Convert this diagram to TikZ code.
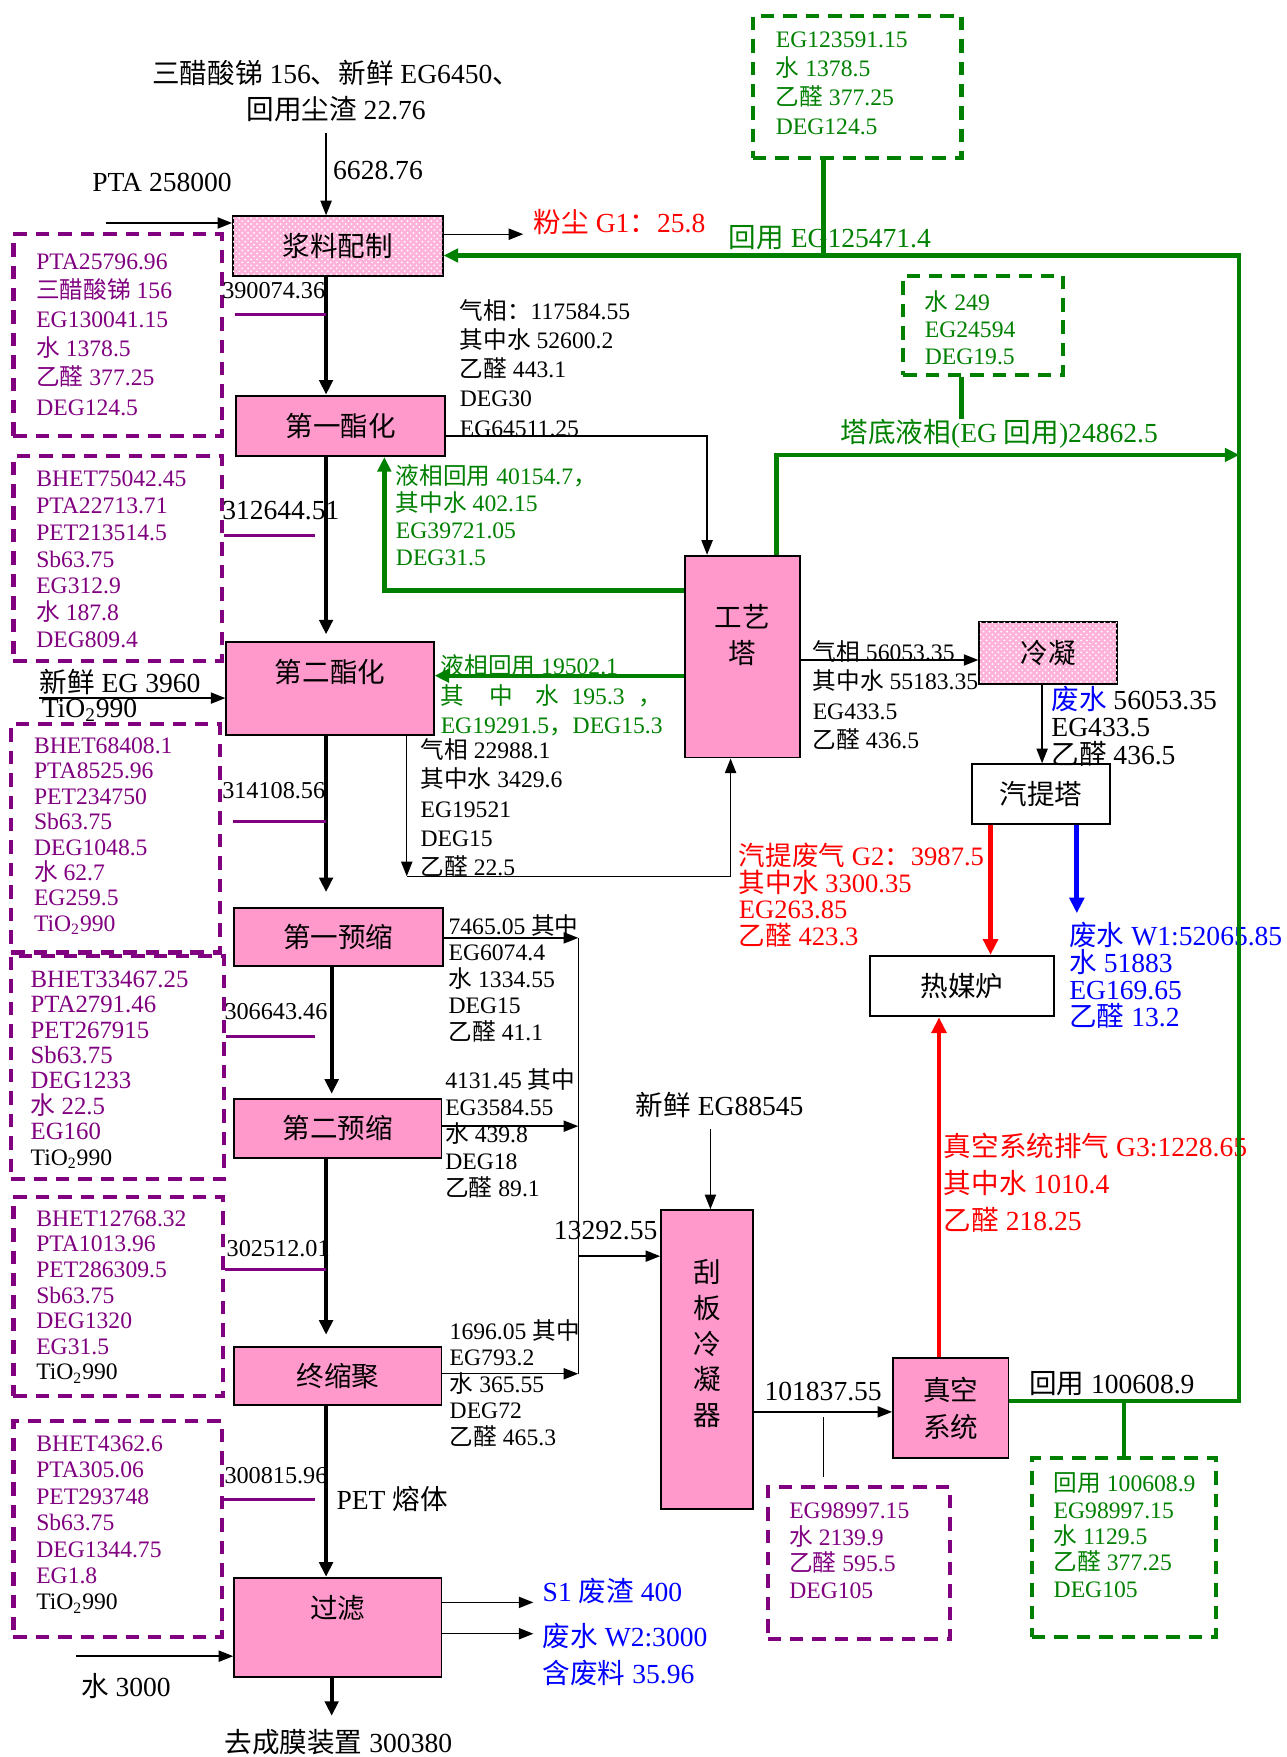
\documentclass[tikz,border=0pt]{standalone}
\usepackage{fontspec}
\setmainfont{Liberation Serif}
\newfontfamily\cjk{Noto Sans CJK SC}
\usetikzlibrary{arrows.meta,patterns}
\definecolor{procpink}{HTML}{FF99CC}
\definecolor{mixpink}{HTML}{FFB3DA}
\definecolor{flowpurple}{HTML}{800080}
\definecolor{flowgreen}{HTML}{008000}
% switch to the CJK font for Chinese characters
\XeTeXinterchartokenstate=1
\newXeTeXintercharclass\cjkclass
\newcount\cjkcode
\def\setcjkrange#1#2{\cjkcode=#1\relax
	\loop\XeTeXcharclass\cjkcode=\cjkclass
	\ifnum\cjkcode<#2\relax\advance\cjkcode by 1\repeat}
\setcjkrange{"3000}{"303F}
\setcjkrange{"4E00}{"9FFF}
\setcjkrange{"FF00}{"FFEF}
\XeTeXinterchartoks 0 \cjkclass={\cjk}
\XeTeXinterchartoks 4095 \cjkclass={\cjk}
\XeTeXinterchartoks \cjkclass 0={\rmfamily}
\XeTeXinterchartoks \cjkclass 4095={\rmfamily}
\begin{document}
\begin{tikzpicture}[x=0.2mm,y=-0.2mm,
		proc/.style={draw,line width=1pt,fill=procpink,inner sep=0pt,align=center,font=\fontsize{14}{18}\selectfont},
		slurrybox/.style={proc,fill=mixpink,postaction={pattern=crosshatch dots,pattern color=white}},
		whitebox/.style={proc,fill=white},
		lbl/.style={inner sep=0pt,font=\fontsize{14}{18.2}\selectfont},
		num/.style={inner sep=0pt,anchor=west,font=\fontsize{12.3}{15}\selectfont},
		dtext/.style={anchor=north west,inner sep=0pt,align=left,font=\fontsize{12}{#1}\selectfont},
		dtext/.default=14.8pt,
		pframe/.style={draw=flowpurple,line width=2.1pt,dash pattern=on 2.4mm off 1.6mm},
		gframe/.style={pframe,draw=flowgreen},
		tie/.style={draw=flowpurple,line width=1.6pt},
		thinline/.style={line width=0.7pt},
		thinarr/.style={thinline,-{Triangle[length=2.6mm,width=2mm]}},
		mainarr/.style={line width=2.2pt,-{Triangle[length=2.6mm,width=2.4mm]}},
		gline/.style={draw=flowgreen,line width=2.2pt},
		garr/.style={gline,-{Triangle[length=2.6mm,width=2.4mm]}},
		redarr/.style={draw=red,line width=2.4pt,-{Triangle[length=2.8mm,width=2.6mm]}},
		bluearr/.style={draw=blue,line width=2.4pt,-{Triangle[length=2.8mm,width=2.6mm]}}
	]
	\useasboundingbox (0,0) rectangle (1148,1568);
	\coordinate (mainx) at (291,0);
	\coordinate (subx) at (296,0);
	\coordinate (rtop) at (1106,228);
	\coordinate (rbot) at (1106,1250);
	\coordinate (ptain) at (95,199);
	\coordinate (egin) at (35,623);
	\coordinate (win) at (68,1478);
	\coordinate (v2) at (363,782);
	\coordinate (colt) at (516,837);
	\coordinate (colb) at (516,1226);
	\coordinate (tap) at (735,1265);

	\node[slurrybox,minimum width=37.4mm,minimum height=10.6mm] (slurry) at (301.5,219.5) {浆料配制};
	\node[proc,minimum width=37.2mm,minimum height=10.8mm] (ester1) at (304,380) {第一酯化};
	\node[proc,minimum width=37mm,minimum height=16.6mm,label={[name=ester2lbl,lbl,yshift=2.9mm]center:第二酯化}] (ester2) at (294.5,614.5) {};
	\node[proc,minimum width=37.2mm,minimum height=10.4mm] (pre1) at (302,836) {第一预缩};
	\node[proc,minimum width=37mm,minimum height=10.4mm] (pre2) at (301.5,1007) {第二预缩};
	\node[proc,minimum width=37mm,minimum height=10.4mm] (final) at (301.5,1228) {终缩聚};
	\node[proc,minimum width=37mm,minimum height=17.8mm,label={[name=filterlbl,lbl,yshift=3.5mm]center:过滤}] (filter) at (301.5,1452.5) {};
	\node[proc,minimum width=20.6mm,minimum height=36mm,label={[name=towerlbl,lbl,align=center,yshift=3.8mm]center:工艺\\塔}] (tower) at (662.5,586) {};
	\node[slurrybox,minimum width=24.6mm,minimum height=11mm] (cond) at (935.5,582.5) {冷凝};
	\node[whitebox,minimum width=24.8mm,minimum height=10.6mm] (strip) at (929,708.5) {汽提塔};
	\node[whitebox,minimum width=33mm,minimum height=10.8mm] (heater) at (858.5,880) {热媒炉};
	\node[proc,minimum width=16.4mm,minimum height=53.4mm,label={[name=scraperlbl,lbl,align=center,yshift=2.9mm]center:刮\\板\\冷\\凝\\器}] (scraper) at (631,1213.5) {};
	\node[proc,minimum width=20.6mm,minimum height=17.8mm,font=\fontsize{14}{18.8}\selectfont] (vacuum) at (848.5,1256.5) {真空\\系统};

	\node[pframe,minimum width=37.2mm,minimum height=36mm] (pb1) at (105,299) {};
	\node[pframe,minimum width=37.2mm,minimum height=36.6mm] (pb2) at (105,498.5) {};
	\node[pframe,minimum width=37.2mm,minimum height=40.8mm] (pb3) at (103,748) {};
	\node[pframe,minimum width=38mm,minimum height=39.8mm] (pb4) at (105,952.5) {};
	\node[pframe,minimum width=37.4mm,minimum height=35.6mm] (pb5) at (105.5,1157) {};
	\node[pframe,minimum width=37.2mm,minimum height=38.6mm] (pb8) at (105,1364.5) {};
	\node[pframe,minimum width=32.6mm,minimum height=27.2mm] (pb6) at (766.5,1395) {};
	\node[gframe,minimum width=32.8mm,minimum height=32mm] (gb7) at (1003,1381) {};
	\node[gframe,minimum width=37.2mm,minimum height=25.4mm] (gb1) at (765,77.5) {};
	\node[gframe,minimum width=28.6mm,minimum height=17.8mm] (gb2) at (877.5,290.5) {};

	\node[dtext,flowpurple] (pt1) at (32,226) {PTA25796.96\\三醋酸锑 156\\EG130041.15\\水 1378.5\\乙醛 377.25\\DEG124.5};
	\node[dtext=13.6pt,flowpurple] (pt2) at (32,420) {BHET75042.45\\PTA22713.71\\PET213514.5\\Sb63.75\\EG312.9\\水 187.8\\DEG809.4};
	\node[dtext=12.9pt,flowpurple] (pt3) at (30,658) {BHET68408.1\\PTA8525.96\\PET234750\\Sb63.75\\DEG1048.5\\水 62.7\\EG259.5\\TiO\textsubscript{2}990};
	\node[dtext,font=\fontsize{12.6}{12.9}\selectfont,flowpurple] (pt4) at (27,866) {BHET33467.25\\PTA2791.46\\PET267915\\Sb63.75\\DEG1233\\水 22.5\\EG160\\\textcolor{black}{\fontsize{12}{12.9}\selectfont TiO\textsubscript{2}990}};
	\node[dtext=13pt,flowpurple] (pt5) at (32,1080) {BHET12768.32\\PTA1013.96\\PET286309.5\\Sb63.75\\DEG1320\\EG31.5\\\textcolor{black}{TiO\textsubscript{2}990}};
	\node[dtext=13.4pt,flowpurple] (pt8) at (32,1281) {BHET4362.6\\PTA305.06\\PET293748\\Sb63.75\\DEG1344.75\\EG1.8\\\textcolor{black}{TiO\textsubscript{2}990}};
	\node[dtext=13.5pt,flowpurple] (pt6) at (704,1341) {EG98997.15\\水 2139.9\\乙醛 595.5\\DEG105};
	\node[dtext=13.4pt,flowgreen] (pt7) at (940,1314) {回用 100608.9\\EG98997.15\\水 1129.5\\乙醛 377.25\\DEG105};
	\node[dtext,flowgreen] (gt1) at (692,28) {EG123591.15\\水 1378.5\\乙醛 377.25\\DEG124.5};
	\node[dtext=13.7pt,flowgreen] (gt2) at (825,259) {水 249\\EG24594\\DEG19.5};

	\node[dtext] (vap1) at (410,267) {气相：117584.55\\其中水 52600.2\\乙醛 443.1\\DEG30\\EG64511.25};
	\node[dtext=13.7pt,flowgreen] (liq1) at (353,414) {液相回用 40154.7，\\其中水 402.15\\EG39721.05\\DEG31.5};
	\node[dtext=15pt,flowgreen] (liq2) at (393,584) {液相回用 19502.1\\其\hspace{4.5mm}中\hspace{4mm}水\hspace{2.2mm}195.3\hspace{2.4mm}，\\EG19291.5，DEG15.3};
	\node[dtext] (vap2) at (375,659) {气相 22988.1\\其中水 3429.6\\EG19521\\DEG15\\乙醛 22.5};
	\node[dtext=15pt] (vap3) at (725,571) {气相 56053.35\\其中水 55183.35\\EG433.5\\乙醛 436.5};
	\node[dtext,font=\fontsize{14}{14}\selectfont] (ww1) at (938,612) {\textcolor{blue}{废水} 56053.35\\EG433.5\\乙醛 436.5};
	\node[dtext,font=\fontsize{13.5}{13.5}\selectfont,red] (g2) at (659,752) {汽提废气 G2：3987.5\\其中水 3300.35\\EG263.85\\乙醛 423.3};
	\node[dtext,font=\fontsize{14}{13.7}\selectfont,blue] (w1) at (954,823) {废水 W1:52065.85\\水 51883\\EG169.65\\乙醛 13.2};
	\node[dtext,font=\fontsize{14}{18.8}\selectfont,red] (g3) at (842,1011) {真空系统排气 G3:1228.65\\其中水 1010.4\\乙醛 218.25};
	\node[dtext=13.4pt] (pre1t) at (400,816) {7465.05 其中\\EG6074.4\\水 1334.55\\DEG15\\乙醛 41.1};
	\node[dtext=13.7pt] (pre2t) at (397,953) {4131.45 其中\\EG3584.55\\水 439.8\\DEG18\\乙醛 89.1};
	\node[dtext=13.5pt] (fint) at (401,1177) {1696.05 其中\\EG793.2\\水 365.55\\DEG72\\乙醛 465.3};
	\node[dtext,font=\fontsize{14}{18.8}\selectfont,blue] (w2) at (484,1448) {废水 W2:3000\\含废料 35.96};

	\node[lbl,align=center] (feed) at (300,81) {三醋酸锑 156、新鲜 EG6450、\\回用尘渣 22.76};
	\node[lbl,anchor=west] (feedq) at (297,152) {6628.76};
	\node[lbl,anchor=west] (pta) at (82,163) {PTA 258000};
	\node[lbl,anchor=west,red] (dust) at (476,198) {粉尘 G1：25.8};
	\node[lbl,anchor=west,flowgreen] (ret1) at (650,212) {回用 EG125471.4};
	\node[lbl,anchor=west,flowgreen] (ret2) at (750,387) {塔底液相(EG 回用)24862.5};
	\node[num] (s1) at (198,259) {390074.36};
	\node[lbl,anchor=west] (s2) at (198,456) {312644.51};
	\node[num] (s3) at (198,706) {314108.56};
	\node[num] (s4) at (200,903) {306643.46};
	\node[num] (s5) at (202,1114) {302512.01};
	\node[num] (s6) at (200,1317) {300815.96};
	\node[lbl,anchor=west] (melt) at (300,1338) {PET 熔体};
	\node[lbl] (prod) at (302,1555) {去成膜装置 300380};
	\node[lbl,anchor=west] (water) at (72,1505) {水 3000};
	\node[lbl,anchor=west] (fresh) at (35,609) {新鲜 EG 3960};
	\node[lbl,anchor=west] (tio) at (37,634) {TiO\textsubscript{2}990};
	\node[lbl,anchor=west,blue] (s1out) at (484,1420) {S1 废渣 400};
	\node[lbl,anchor=west] (g13) at (494,1098) {13292.55};
	\node[lbl,anchor=west] (eg88) at (567,986) {新鲜 EG88545};
	\node[lbl,anchor=west] (s101) at (682,1242) {101837.55};
	\node[lbl,anchor=west] (ret3) at (918,1235) {回用 100608.9};

	\draw[thinarr,shorten <=2mm] (feed.south -| mainx) -- (slurry.north -| mainx);
	\draw[thinarr] (ptain) -- (slurry.west |- ptain);
	\draw[thinarr,shorten >=1.8mm] (slurry.east |- 0,209) -- (dust.west |- 0,209);
	\draw[mainarr] (slurry.south -| mainx) -- (ester1.north -| mainx);
	\draw[mainarr,shorten >=1.2mm] (ester1.south -| mainx) -- (ester2.north -| mainx);
	\draw[mainarr,shorten >=2.6mm] (ester2.south -| mainx) -- (pre1.north -| mainx);
	\draw[mainarr,shorten >=0.8mm] (pre1.south -| subx) -- (pre2.north -| subx);
	\draw[mainarr,shorten >=2mm] (pre2.south -| mainx) -- (final.north -| mainx);
	\draw[mainarr] (final.south -| mainx) -- (filter.north -| mainx);
	\draw[mainarr] (filter.south -| subx) -- ([yshift=2.4mm]prod.north -| subx);

	\draw[tie,shorten <=2mm] (pb1.east |- 0,281) -- (mainx |- 0,281);
	\draw[tie] (pb2.east |- 0,478) -- ([xshift=-2mm]mainx |- 0,478);
	\draw[tie,shorten <=2mm] (pb3.east |- 0,733) -- (mainx |- 0,733);
	\draw[tie] (pb4.east |- 0,925) -- ([xshift=-2mm]mainx |- 0,925);
	\draw[tie] (pb5.east |- 0,1133) -- (mainx |- 0,1133);
	\draw[tie] (pb8.east |- 0,1338) -- ([xshift=-2mm]mainx |- 0,1338);

	\draw[garr] (vacuum.east |- rbot) -- (rbot) -- (rtop) -- (slurry.east |- rtop);
	\draw[gline] (gb1.south -| 735,0) -- (rtop -| 735,0);
	\draw[gline] (gb2.south -| 858,0) -- (ret2.north -| 858,0);
	\draw[gline] (gb7.north) -- (gb7.north |- rbot);
	\draw[garr] (tower.north -| 693,0) -- (693,406) -- (rtop |- 0,406);
	\draw[garr] (tower.west |- 0,527) -- (343,527) -- (ester1.south -| 343,0);
	\draw[garr] (tower.west |- 0,603) -- (ester2.east |- 0,603);

	\draw[thinarr] (egin) -- (ester2.west |- egin);
	\draw[thinarr] (ester1.east |- 0,389) -- (631,389) -- (tower.north -| 631,0);
	\draw[thinarr] (ester2.south -| v2) -- (v2);
	\draw[thinarr] (v2) -| (tower.south -| 652,0);
	\draw[thinarr] (tower.east |- 0,589) -- (cond.west |- 0,589);
	\draw[thinarr] (cond.south -| 930,0) -- (strip.north -| 930,0);
	\draw[redarr] (strip.south -| 884,0) -- (heater.north -| 884,0);
	\draw[bluearr,shorten >=1.6mm] (strip.south -| 961,0) -- (w1.north -| 961,0);
	\draw[redarr] (vacuum.north -| 838,0) -- (heater.south -| 838,0);

	\draw[thinline] (colt) -- (colb);
	\draw[thinarr] (pre1.east |- colt) -- (colt);
	\draw[thinarr] (pre2.east |- 0,1005) -- (colt |- 0,1005);
	\draw[thinarr] (final.east |- colb) -- (colb);
	\draw[thinarr] (colt |- 0,1121) -- (scraper.west |- 0,1121);
	\draw[thinarr,shorten <=2mm] (eg88.south -| 634,0) -- (scraper.north -| 634,0);
	\draw[thinarr] (scraper.east |- 0,1260) -- (vacuum.west |- 0,1260);
	\draw[thinline,shorten >=1.4mm] (tap) -- (pb6.north -| tap);

	\draw[thinarr,shorten >=1.6mm] (filter.east |- 0,1430) -- (s1out.west |- 0,1430);
	\draw[thinarr,shorten >=1.6mm] (filter.east |- 0,1458) -- (w2.west |- 0,1458);
	\draw[thinarr] (win) -- (filter.west |- win);
\end{tikzpicture}
\end{document}
